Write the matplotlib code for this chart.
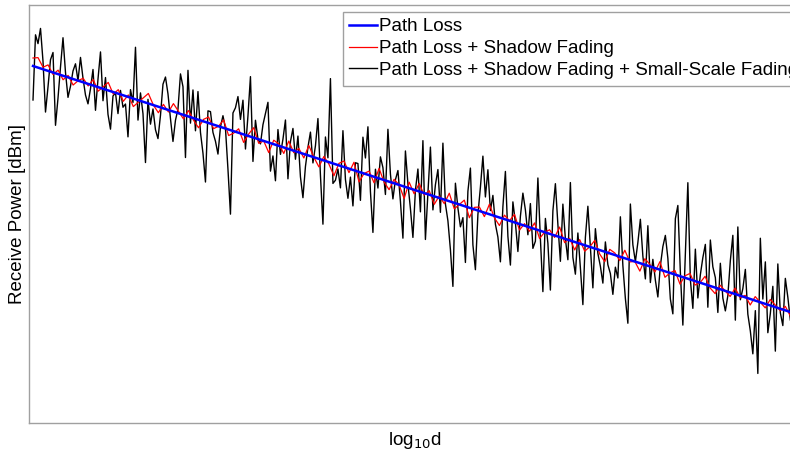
import numpy as np
import matplotlib.pyplot as plt

plt.rcParams['font.family'] = ['Liberation Sans', 'DejaVu Sans']

# path loss at the two ends of the log10(d) range [dBm]
log_d_ends = [0.0, 2.0]
path_loss_ends = [-40.0, -101.5]

# shadow fading around the path loss [dB]
shadow_db = [2, 2.5, 0.5, 1.5, -0.5, 1, -1, 0.5, -1.5, 0,
             1, -0.5, 1.5, -1, 0.5, 2, -0.5, 1, -1.5, 0.5,
             -2, -0.5, 1, 2.5, 0, -1.5, 1, -0.5, 2, 0.5,
             -1, 1.5, -0.5, -2, 0.5, 1.5, -1, 0, 2, -1.5,
             -0.5, 1, -2, 0.5, 2.5, -1, 0, -2.5, 1, 0.5,
             -1.5, 2, -0.5, 1, -1, 2.5, 0, -2, 1, -0.5,
             -3, 0.5, 1.5, -1, 2, -2.5, 0, 1, -1.5, 2.5,
             -0.5, -2, 1, 0, -3, 1.5, -1, 2, -0.5, 1,
             -2, 0.5, -1, 2, -1.5, 0, 1.5, -2.5, 0.5, 1,
             -1, 2.5, -0.5, -2, 1, 0, 2, -1.5, 0.5, -1,
             1.5, -2, 0, 1, -0.5, 2.5, -1, 0.5, -2, 1,
             -1.5, 0, 2, -1, -2.5, 1, 0.5, -1, 2, -0.5,
             0, -2, 1.5, 0.5, -1, 2, -1.5, 0, 1, -2,
             0.5, 1.5, -1, 0, 2, -0.5, -1.5, 1, 0, -1,
             1.5, -0.5, 0.5, -1.5, 1, 0, -1, 1.5, 0.5, -0.5,
             1, -1]

# shadow + small-scale fading around the path loss [dB]
fading_db = [-8.5, 8, 6, 10, 2, -10.5, -4, 3, 5, -13,
             -6, 2, 9.5, 1, -5, -2, 2, 4, 0, 6,
             1, -3, -5, -1, 4, -6, 2, 9, -3, 3,
             -6, -9.5, -1, 0, -5, 1, -3, -2, -10, 2,
             -1, 13, -5, 2, -3, -15, 1, -5, -1, -6,
             -8, -2, 6, 8, 4, -2, -7.5, -2, 1, 10,
             7, -10.5, 11.5, -1.5, 7, -3, 7, -3, -8, -15,
             3, 3, -2, -4, -7, 0, 3, 0, -10, -21,
             4.5, 6, 9, 3.5, 8.5, -3.5, 5, 15, -6, 4.5,
             0, -1, 4, 7, 10, -7, -3, -9, 4, -2,
             2, 7, -7.5, 2, 5.5, -2, 4, -6, -11, -3,
             2, 6, -1.5, 3, 10, -4, -16, 6, 1, 21,
             -5, -4, -1, -5.5, 9, -3, -7.5, -2, -9, 2,
             2, -7, 9, 4, 12, -4, -14, 2, -2.5, 5.5,
             3, -3.5, 13, 2, -4, 1, 3.5, -4, -13, 9,
             1, -5, -12, 0, 5.5, -5, 13, -11.5, 0, 12,
             -3.5, 3, 7, -3.5, 14, -1, -5, -12, -21, 5,
             -1, -5.5, -3, -14, 4, 10, -9, -15, -1, 6,
             14, 4, 11, 1, 5, -2, -5, -11, 3, 12,
             -4, -11, 5, 0, -7, 2, 8, 4, -2, 6,
             -5, -3, 13, -2, -15, 3.5, -2.5, -14, 6, 13,
             3, -6, 8.5, 0, -5, 14.5, -4, -8, 2.5, -6,
             -15, 2, 10, 0, -10, 5, -1, -4, -8, 2.5,
             -3, -5, -10, -3, -5.5, 10, -2, -10, -16, 14,
             4, 0, 5, 11, 2, -3.5, 10, -4, 2, -3,
             -7, 1, 6, 9, 3.5, -6.5, -10, 14, 17.5, 1,
             -12, 6, 24, 0, -7, 8, -4, 2, 6.5, 10,
             -5.5, 11.5, 5, 2.5, -6, 6.5, -2, -5, -1, 8,
             14.5, -6.5, 17, -1, 2, 7, -4, -8, -13.5, -2.5,
             -18, 16, 1, 10.5, -7, -2, 5, -11, 11, -1,
             -4, 8, 3.5, -2]

x_shadow = np.linspace(log_d_ends[0], log_d_ends[1], len(shadow_db))
x_fading = np.linspace(log_d_ends[0], log_d_ends[1], len(fading_db))

pl_shadow = np.interp(x_shadow, log_d_ends, path_loss_ends) + np.array(shadow_db)
pl_fading = np.interp(x_fading, log_d_ends, path_loss_ends) + np.array(fading_db)

fs = 13.5

fig = plt.figure(figsize=(7.9, 4.58), dpi=100)
ax = fig.add_axes([0.0367, 0.0764, 0.977, 0.9127])

l3, = ax.plot(x_fading, pl_fading, color='black', linewidth=1.0)
l2, = ax.plot(x_shadow, pl_shadow, color='red', linewidth=0.9)
l1, = ax.plot(log_d_ends, path_loss_ends, color='blue', linewidth=1.8)

ax.set_xlim(-0.0106, 2.0277)
ax.set_ylim(-129.25, -24.75)
ax.set_xticks([])
ax.set_yticks([])
for s in ax.spines.values():
    s.set_color('#a0a0a0')
    s.set_linewidth(1.0)

ax.set_xlabel('log$_{10}$d', fontsize=fs, labelpad=5)
ax.set_ylabel('Receive Power [dBm]', fontsize=fs, labelpad=2)

leg = ax.legend([l1, l2, l3],
                ['Path Loss', 'Path Loss + Shadow Fading',
                 'Path Loss + Shadow Fading + Small-Scale Fading'],
                loc='upper right', bbox_to_anchor=(1.0055, 0.984),
                fontsize=fs, fancybox=False, framealpha=1,
                edgecolor='#a0a0a0', handlelength=1.45, handletextpad=0.15,
                labelspacing=0.25, borderpad=0.35, borderaxespad=0.0)
leg.get_frame().set_linewidth(1.0)

fig.savefig('out.png', dpi=100)
